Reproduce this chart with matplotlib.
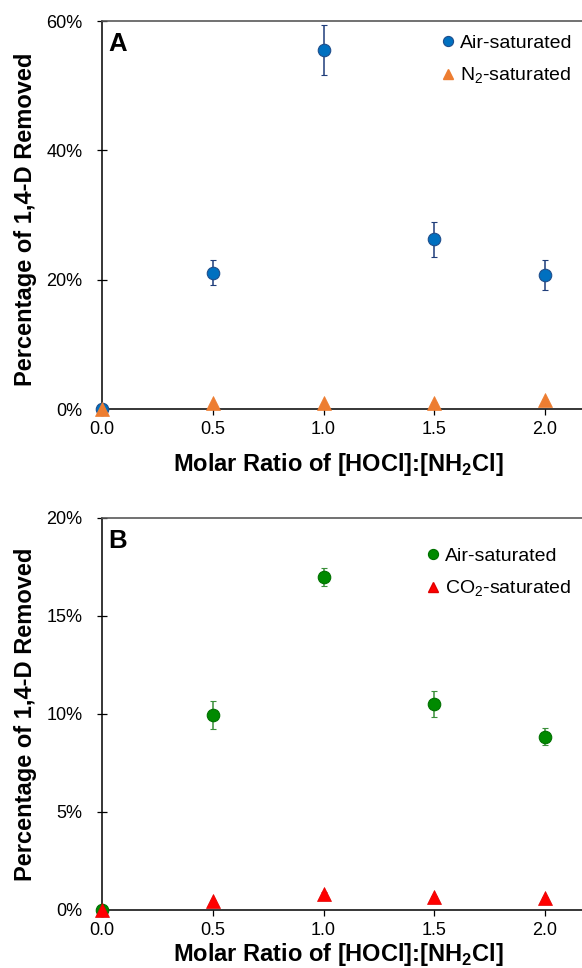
import matplotlib
matplotlib.use('Agg')
import matplotlib.pyplot as plt
from matplotlib.ticker import FuncFormatter

plt.rcParams['font.family'] = ['Liberation Sans', 'DejaVu Sans']
plt.rcParams['mathtext.fontset'] = 'custom'
plt.rcParams['mathtext.rm'] = 'Liberation Sans'
plt.rcParams['mathtext.bf'] = 'Liberation Sans:bold'

# Molar ratio [HOCl]:[NH2Cl]
ratio = [0.0, 0.5, 1.0, 1.5, 2.0]

# Panel A: percentage of 1,4-D removed
air_a = [0.0, 21.1, 55.5, 26.3, 20.7]
air_a_err = [0.0, 1.9, 3.9, 2.7, 2.3]
n2_a = [0.0, 0.95, 0.95, 1.0, 1.45]
n2_a_err = [0.0, 0.1, 0.1, 0.1, 0.1]

# Panel B
air_b = [0.0, 9.95, 17.0, 10.5, 8.85]
air_b_err = [0.0, 0.7, 0.45, 0.65, 0.42]
co2_b = [0.0, 0.48, 0.82, 0.68, 0.59]
co2_b_err = [0.0, 0.05, 0.12, 0.05, 0.05]

W, H = 582, 968
fig = plt.figure(figsize=(W / 100, H / 100), dpi=100)

X0 = 102        # pixel of ratio 0
UNIT = 221.5    # pixels per ratio unit
XR = 592        # axes right edge (beyond the figure, so the right side is cut)


def make_axes(top_px, bottom_px):
    return fig.add_axes([X0 / W, 1 - bottom_px / H, (XR - X0) / W, (bottom_px - top_px) / H])


def style(ax, ymax, step, letter, xlab_y, ymid):
    ax.set_xlim(0, (XR - X0) / UNIT)
    ax.set_ylim(0, ymax)
    ax.set_xticks(ratio)
    ax.set_xticklabels(['%.1f' % r for r in ratio])
    ax.set_yticks([i * step for i in range(int(ymax / step) + 1)])
    ax.yaxis.set_major_formatter(FuncFormatter(lambda v, p: '%d%%' % round(v)))
    ax.tick_params(axis='y', direction='inout', length=7, width=0.9, labelsize=13,
                   pad=10.5, colors='black')
    ax.tick_params(axis='x', direction='out', length=4.3, width=0.9, labelsize=13, pad=4)
    for s in ['left', 'bottom']:
        ax.spines[s].set_color('black')
        ax.spines[s].set_linewidth(1.1)
    ax.spines['top'].set_color('#595959')
    ax.spines['top'].set_linewidth(1.2)
    ax.spines['right'].set_visible(False)
    ax.set_xlabel('Molar Ratio of [HOCl]:[NH$_\\mathbf{2}$Cl]', fontsize=17,
                  fontweight='bold', va='center')
    ax.xaxis.set_label_coords(338 / W, 1 - xlab_y / H, transform=fig.transFigure)
    ax.set_ylabel('Percentage of 1,4-D Removed', fontsize=17, fontweight='bold',
                  va='center')
    ax.yaxis.set_label_coords(26 / W, 1 - ymid / H, transform=fig.transFigure)
    ax.text(0.012, 0.972, letter, transform=ax.transAxes, fontsize=18.5,
            fontweight='bold', va='top', ha='left')


def legend(ax, handles, labels, left_px, top_px):
    ax.legend(handles, labels, loc='upper left',
              bbox_to_anchor=(left_px / W, 1 - top_px / H),
              bbox_transform=fig.transFigure, frameon=False, fontsize=14,
              borderpad=0, borderaxespad=0, handlelength=0.73, handletextpad=0.25,
              labelspacing=0.75)


# Panel A
ax1 = make_axes(21, 409.3)
ax1.errorbar(ratio, air_a, yerr=air_a_err, fmt='o', ms=9, mfc='#0070C0',
             mec='#1F4E8C', mew=0.8, ecolor='#1F3D7A', elinewidth=1.1, capsize=2.5,
             clip_on=False, zorder=3)
ax1.errorbar(ratio, n2_a, yerr=n2_a_err, fmt='^', ms=9.5, mfc='#ED7D31',
             mec='#ED7D31', mew=0.5, ecolor='#ED7D31', elinewidth=1, capsize=2,
             clip_on=False, zorder=4)
style(ax1, 60, 20, 'A', 465, 219)
h1 = [plt.Line2D([], [], ls='', marker='o', ms=7.3, mfc='#0070C0', mec='#1F4E8C', mew=0.8),
      plt.Line2D([], [], ls='', marker='^', ms=7.3, mfc='#ED7D31', mec='#ED7D31')]
legend(ax1, h1, ['Air-saturated', 'N$_2$-saturated'], 441, 34)

# Panel B
ax2 = make_axes(518, 910)
ax2.errorbar(ratio, air_b, yerr=air_b_err, fmt='o', ms=9, mfc='#008A00',
             mec='#007000', mew=0.8, ecolor='#3A8F3A', elinewidth=1.1, capsize=2.5,
             clip_on=False, zorder=3)
ax2.errorbar(ratio, co2_b, yerr=co2_b_err, fmt='^', ms=9.5, mfc='#FF0000',
             mec='#E00000', mew=0.5, ecolor='#C00000', elinewidth=1, capsize=2,
             clip_on=False, zorder=4)
style(ax2, 20, 5, 'B', 955, 714)
h2 = [plt.Line2D([], [], ls='', marker='o', ms=7.3, mfc='#008A00', mec='#007000', mew=0.8),
      plt.Line2D([], [], ls='', marker='^', ms=7.3, mfc='#FF0000', mec='#E00000')]
legend(ax2, h2, ['Air-saturated', 'CO$_2$-saturated'], 426, 547)

fig.savefig('out.png', dpi=100)
